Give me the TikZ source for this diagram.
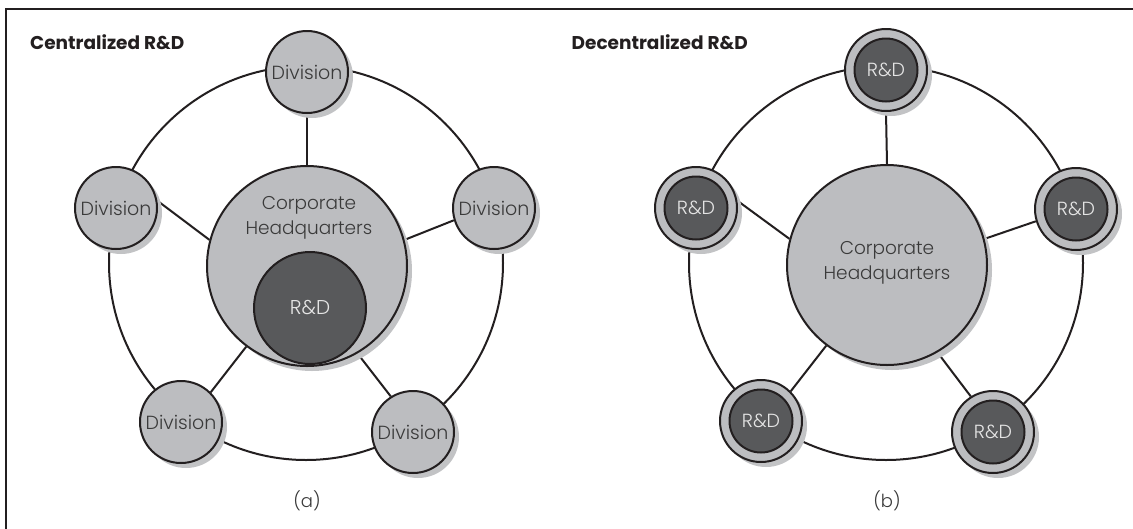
\documentclass[tikz,border=0pt]{standalone}
\usepackage{fontspec}
\setmainfont{Poppins}
\newfontfamily\lightfont{Poppins Light}
\usetikzlibrary{calc}
\pgfdeclarelayer{bglayer}
\pgfdeclarelayer{shlayer}
\pgfsetlayers{bglayer,shlayer,main}
\definecolor{lgray}{HTML}{BCBDC0}
\definecolor{sgray}{HTML}{C2C3C5}
\definecolor{dgray}{HTML}{58595B}
\definecolor{tgray}{HTML}{3A3A3A}
\definecolor{framec}{HTML}{231F20}
\begin{document}
\begin{tikzpicture}[x=1pt,y=-1pt,
  lw/.style={line width=2pt, draw=framec},
  divnode/.style={circle, lw, fill=lgray, minimum size=82pt, inner sep=0pt,
    font=\lightfont\fontsize{19}{19}\selectfont, text=tgray},
  hqnode/.style={circle, lw, fill=lgray, minimum size=200pt, inner sep=0pt},
  rdbig/.style={circle, lw, fill=dgray, minimum size=112pt, inner sep=0pt,
    font=\lightfont\fontsize{20}{20}\selectfont, text=white!90!black},
  rdouter/.style={circle, lw, fill=lgray, minimum size=82pt, inner sep=0pt},
  rdinner/.style={circle, lw, fill=dgray, minimum size=63pt, inner sep=0pt,
    font=\lightfont\fontsize{19}{19}\selectfont, text=white!90!black},
  txt/.style={font=\lightfont\fontsize{18.5}{25}\selectfont, text=tgray, align=center},
  titlestyle/.style={font=\bfseries\fontsize{18.5}{18.5}\selectfont, text=framec, inner sep=0pt},
  captext/.style={font=\lightfont\fontsize{18}{18}\selectfont, text=tgray},
  shadowfill/.style={fill=sgray}
]
\useasboundingbox (0,0) rectangle (1133,528);
\begin{pgfonlayer}{bglayer}
  \fill[white] (0,0) rectangle (1133,528);
\end{pgfonlayer}
\draw[line width=2.6pt, draw=framec] (6,540) -- (6,9) -- (1140,9);

% titles
\node[titlestyle, anchor=base west] (t1) at (30,49) {Centralized R\&D};
\node[titlestyle, anchor=base east] (t2) at (748,49) {Decentralized R\&D};

% ---------- (a) centralized ----------
\node[hqnode] (hqA) at (307,266) {};
\node[rdbig] (rdA) at (310,308) {R\&D};
\node[txt] (hqAt) at (309,218) {Corporate\\Headquarters};
\node[divnode] (d1) at (307,72) {Division};
\node[divnode] (d2) at (116,208) {Division};
\node[divnode] (d3) at (494,208) {Division};
\node[divnode] (d4) at (181,422) {Division};
\node[divnode] (d5) at (413,432) {Division};
\begin{pgfonlayer}{shlayer}
  \foreach \d/\r in {hqA/100,d1/41,d2/41,d3/41,d4/41,d5/41}
    \fill[shadowfill] ($(\d.center)+(5,5)$) circle (\r);
\end{pgfonlayer}
\begin{pgfonlayer}{bglayer}
  \draw[lw] (306,263) circle (197);
  \draw[lw] (hqA.90) -- (d1.270);
  \draw[lw] (hqA.165) -- (d2.10);
  \draw[lw] (hqA.15) -- (d3.197);
  \draw[lw] (hqA.233) -- (d4.45);
  \draw[lw] (hqA.300) -- (d5.122);
\end{pgfonlayer}
\node[captext] (ca) at (307,501) {(a)};

% ---------- (b) decentralized ----------
\node[hqnode] (hqB) at (887,265) {};
\node[txt] (hqBt) at (887,263) {Corporate\\Headquarters};
\foreach \n/\x/\y in {r1/886/70, r2/696/208, r3/1076/209, r4/761/421, r5/993/432}{
  \node[rdouter] (\n) at (\x,\y) {};
  \node[rdinner] (\n i) at (\x,\y) {R\&D};
}
\begin{pgfonlayer}{shlayer}
  \fill[shadowfill] ($(hqB.center)+(5,5)$) circle (100);
  \foreach \d in {r1,r2,r3,r4,r5}
    \fill[shadowfill] ($(\d.center)+(5,5)$) circle (41);
\end{pgfonlayer}
\begin{pgfonlayer}{bglayer}
  \draw[lw] (886,263) circle (197);
  \draw[lw] (hqB.90) -- (r1.270);
  \draw[lw] (hqB.165) -- (r2.10);
  \draw[lw] (hqB.15) -- (r3.197);
  \draw[lw] (hqB.233) -- (r4.45);
  \draw[lw] (hqB.300) -- (r5.122);
\end{pgfonlayer}
\node[captext] (cb) at (887,501) {(b)};
\end{tikzpicture}
\end{document}
